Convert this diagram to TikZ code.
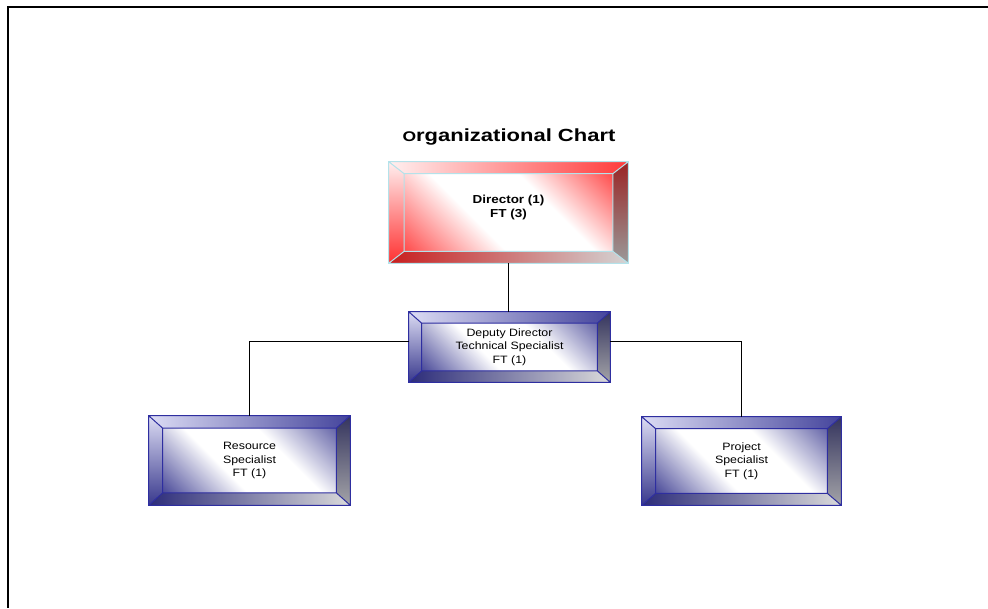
\documentclass[tikz,border=0pt]{standalone}
\usepackage{fontspec}
\setmainfont{Liberation Sans}[FakeStretch=1.16]
\newfontfamily\titlefont{Liberation Sans}[FakeStretch=1.25]
\usetikzlibrary{calc,backgrounds}
% red scheme
\definecolor{rFace}{HTML}{FF4040}
\definecolor{rTopL}{HTML}{FFF0F0}
\definecolor{rTopR}{HTML}{FF3A3A}
\definecolor{rLeftT}{HTML}{FFF0F0}
\definecolor{rLeftB}{HTML}{FF3030}
\definecolor{rBotL}{HTML}{C81E1E}
\definecolor{rBotR}{HTML}{D4D4D4}
\definecolor{rRightT}{HTML}{9A2424}
\definecolor{rRightB}{HTML}{9A9A9A}
\definecolor{rLine}{HTML}{B4E2EA}
% blue scheme
\definecolor{bFace}{HTML}{3E3E92}
\definecolor{bTopL}{HTML}{DCDCF4}
\definecolor{bTopR}{HTML}{44449C}
\definecolor{bLeftT}{HTML}{DCDCF4}
\definecolor{bLeftB}{HTML}{38388C}
\definecolor{bBotL}{HTML}{2C2C7A}
\definecolor{bBotR}{HTML}{DADADA}
\definecolor{bRightT}{HTML}{34345E}
\definecolor{bRightB}{HTML}{A4A4A8}
\definecolor{bLine}{HTML}{2E2EA0}
\pgfdeclarehorizontalshading{rface}{100bp}{color(0bp)=(rFace); color(13bp)=(rFace); color(40bp)=(white); color(62bp)=(white); color(87bp)=(rFace); color(100bp)=(rFace)}
\pgfdeclarehorizontalshading{bface}{100bp}{color(0bp)=(bFace); color(13bp)=(bFace); color(40bp)=(white); color(62bp)=(white); color(87bp)=(bFace!85!white); color(100bp)=(bFace)}
\newcommand{\bevelbox}[4]{%
  \path (#1.north west) coordinate (#1-A) (#1.north east) coordinate (#1-B)
        (#1.south east) coordinate (#1-C) (#1.south west) coordinate (#1-D);
  \path ($(#1-A)+(#2,#3)$) coordinate (#1-a) ($(#1-B)+(-#2,#3)$) coordinate (#1-b)
        ($(#1-C)+(-#2,-#3)$) coordinate (#1-c) ($(#1-D)+(#2,-#3)$) coordinate (#1-d);
  \shade[shading=#4face, shading angle=45] (#1-a) rectangle (#1-c);
  \shade[left color=#4TopL, right color=#4TopR] (#1-A) -- (#1-B) -- (#1-b) -- (#1-a) -- cycle;
  \shade[top color=#4LeftT, bottom color=#4LeftB] (#1-A) -- (#1-a) -- (#1-d) -- (#1-D) -- cycle;
  \shade[left color=#4BotL, right color=#4BotR] (#1-D) -- (#1-d) -- (#1-c) -- (#1-C) -- cycle;
  \shade[top color=#4RightT, bottom color=#4RightB] (#1-B) -- (#1-C) -- (#1-c) -- (#1-b) -- cycle;
  \draw[#4Line, line width=0.75pt] (#1-A) rectangle (#1-C) (#1-a) rectangle (#1-c)
        (#1-A) -- (#1-a) (#1-B) -- (#1-b) (#1-C) -- (#1-c) (#1-D) -- (#1-d);
}
\tikzset{
  box/.style={rectangle, inner sep=0pt, align=center, font=\fontsize{8pt}{10pt}\selectfont},
  conn/.style={draw=black, line width=0.75pt},
  frame/.style={draw=black, line width=1.5pt},
}
\begin{document}
\begin{tikzpicture}[x=0.75pt, y=-0.75pt]
\useasboundingbox (0,0) rectangle (988,608);
\draw[frame] (988,6.5) -- (7.5,6.5) -- (7.5,608);

\node[anchor=base, font=\titlefont\bfseries\fontsize{13.2pt}{15pt}\selectfont] (title) at (509,141)
  {{\fontsize{10.5pt}{12pt}\selectfont O}rganizational Chart};

\node[box, minimum width=179.25pt, minimum height=75.75pt,
  label={[font=\bfseries\fontsize{8.7pt}{10.5pt}\selectfont, align=center, yshift=4pt]center:Director (1)\\FT (3)}]
  (dir) at (508.5,212.5) {};
\node[box, minimum width=150.75pt, minimum height=52.5pt] (dep) at (509.5,347)
  {Deputy Director\\Technical Specialist\\FT (1)};
\node[box, minimum width=150.75pt, minimum height=66.75pt] (res) at (249.5,460.5)
  {Resource\\Specialist\\FT (1)};
\node[box, minimum width=149.25pt, minimum height=66pt] (prj) at (741.5,461)
  {Project\\Specialist\\FT (1)};

\begin{pgfonlayer}{background}
  \bevelbox{dir}{15.5}{12}{r}
  \bevelbox{dep}{13}{11.5}{b}
  \bevelbox{res}{14}{12.5}{b}
  \bevelbox{prj}{14}{12}{b}
\end{pgfonlayer}

\coordinate (bus) at (509,341);
\draw[conn] (dir.south) -- (dir.south |- dep.north);
\draw[conn] (dep.west |- bus) -| (res.north);
\draw[conn] (dep.east |- bus) -| (prj.north);
\end{tikzpicture}
\end{document}
